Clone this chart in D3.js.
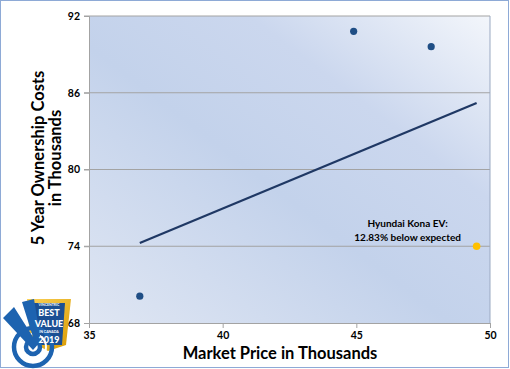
<!DOCTYPE html>
<html>
<head>
<meta charset="utf-8">
<script src="https://cdn.jsdelivr.net/npm/d3@7/dist/d3.min.js"></script>
<style>
  body { margin: 0; background: #fff; }
  text { font-family: Lato, "Open Sans", sans-serif; }
</style>
</head>
<body>
<div id="chart"><svg width="510" height="369"></svg></div>
<script>
// data
var pricesK = [36.9, 44.9, 47.8];
var costsK = [70.1, 90.8, 89.6];
var konaPrice = 49.5, konaCost = 74.0;
var trendX = [36.9, 49.5];
var trendY = [74.25, 85.2];
var xTicks = [35, 40, 45, 50];
var yTicks = [68, 74, 80, 86, 92];
var noteLines = ["Hyundai Kona EV:", "12.83% below expected"];

var svg = d3.select("#chart").select("svg");
var margin = { top: 16, right: 20, bottom: 46, left: 89 };
var width = 490 - margin.left;
var height = 323 - margin.top;

// outer frame
svg.append("rect")
  .attr("x", 0.5).attr("y", 0.5)
  .attr("width", 508).attr("height", 367)
  .attr("fill", "#fff")
  .attr("stroke", "#8eaad6");

var defs = svg.append("defs");
var grad = defs.append("linearGradient")
  .attr("id", "bg")
  .attr("x1", "0%").attr("y1", "100%")
  .attr("x2", "100%").attr("y2", "0%");
grad.append("stop").attr("offset", "0%").attr("stop-color", "#dfe6f3");
grad.append("stop").attr("offset", "45%").attr("stop-color", "#c3d2eb");
grad.append("stop").attr("offset", "70%").attr("stop-color", "#cbd7ee");
grad.append("stop").attr("offset", "100%").attr("stop-color", "#f3f6fb");

var g = svg.append("g")
  .attr("transform", "translate(" + margin.left + "," + margin.top + ")");

var x = d3.scaleLinear().domain([35, 50]).range([0, width]);
var y = d3.scaleLinear().domain([68, 92]).range([height, 0]);

g.append("rect")
  .attr("width", width).attr("height", height)
  .attr("fill", "url(#bg)");

// gridlines
g.selectAll(".grid")
  .data(yTicks.slice(1))
  .enter()
  .append("line")
  .attr("x1", -5).attr("x2", width)
  .attr("y1", function(d) { return y(d); })
  .attr("y2", function(d) { return y(d); })
  .attr("stroke", "#a3a3a3")
  .attr("stroke-width", 1);

// right edge of plot area
g.append("line")
  .attr("x1", width).attr("x2", width)
  .attr("y1", 0).attr("y2", height)
  .attr("stroke", "#9aa9c2");

var yAxis = g.append("g")
  .call(d3.axisLeft(y).tickValues(yTicks).tickSize(5).tickPadding(4));
var xAxis = g.append("g")
  .attr("transform", "translate(0," + height + ")")
  .call(d3.axisBottom(x).tickValues(xTicks).tickSize(5).tickPadding(4));

[xAxis, yAxis].forEach(function(ax) {
  ax.select(".domain").attr("stroke", "#a3a3a3");
  ax.selectAll(".tick line").attr("stroke", "#a3a3a3");
  ax.selectAll(".tick text")
    .attr("fill", "#000")
    .style("font-family", "Lato, sans-serif")
    .style("font-weight", "bold")
    .style("font-size", "10.5px");
});

// trend line
var pts = trendX.map(function(d, i) { return [d, trendY[i]]; });
g.append("path")
  .datum(pts)
  .attr("fill", "none")
  .attr("stroke", "#1f3864")
  .attr("stroke-width", 2.2)
  .attr("d", d3.line()
    .x(function(d) { return x(d[0]); })
    .y(function(d) { return y(d[1]); }));

// other vehicles
g.selectAll(".dot")
  .data(pricesK)
  .enter()
  .append("circle")
  .attr("class", "dot")
  .attr("cx", function(d) { return x(d); })
  .attr("cy", function(d, i) { return y(costsK[i]); })
  .attr("r", 3.6)
  .attr("fill", "#1f4e85");

// Kona EV
g.append("circle")
  .attr("cx", x(konaPrice))
  .attr("cy", y(konaCost))
  .attr("r", 3.8)
  .attr("fill", "#ffc000");

g.append("text")
  .attr("x", x(konaPrice) - 69)
  .attr("y", y(konaCost) - 19)
  .attr("text-anchor", "middle")
  .style("font-size", "10px")
  .style("font-weight", "bold")
  .selectAll("tspan")
  .data(noteLines)
  .enter()
  .append("tspan")
  .attr("x", x(konaPrice) - 69)
  .attr("dy", function(d, i) { return i === 0 ? 0 : 14; })
  .text(function(d) { return d; });

// axis titles
svg.append("text")
  .attr("x", 280)
  .attr("y", 359)
  .attr("text-anchor", "middle")
  .style("font-size", "16.5px")
  .style("font-weight", "bold")
  .text("Market Price in Thousands");

var yt = svg.append("text")
  .attr("transform", "translate(44,158) rotate(-90)")
  .attr("text-anchor", "middle")
  .style("font-size", "16.5px")
  .style("font-weight", "bold");
yt.append("tspan").attr("x", 0).attr("y", 0).text("5 Year Ownership Costs");
yt.append("tspan").attr("x", 0).attr("y", 17).text("in Thousands");

// Vincentric badge (rough)
var logo = svg.append("g");
var yg = defs.append("linearGradient").attr("id", "gold")
  .attr("x1", "0%").attr("y1", "0%").attr("x2", "100%").attr("y2", "100%");
yg.append("stop").attr("offset", "0%").attr("stop-color", "#fbd25a");
yg.append("stop").attr("offset", "100%").attr("stop-color", "#d99a00");
logo.append("path")
  .attr("d", "M27,299 L71,299 L66,345 L48,351 L30,341 Z")
  .attr("fill", "url(#gold)");
logo.append("path")
  .attr("d", "M33,303 L65,303 L62,345 L34,345 Z")
  .attr("fill", "#1b4f93");
[19, 13, 7].forEach(function(r, i) {
  logo.append("circle")
    .attr("cx", 33).attr("cy", 347).attr("r", r)
    .attr("fill", "none")
    .attr("stroke", i === 1 ? "#fff" : "#1d63b0")
    .attr("stroke-width", i === 1 ? 2 : 4.5);
});
logo.append("path")
  .attr("d", "M3,318 L14,307 L33,337 L22,302 L34,299 L41,341 L33,350 Z")
  .attr("fill", "#1d63b0");
var lt = logo.append("g").attr("fill", "#fff").attr("text-anchor", "middle");
lt.append("text").attr("x", 49).attr("y", 306).style("font-size", "3.5px").style("font-weight", "bold").text("VINCENTRIC");
lt.append("text").attr("x", 49).attr("y", 316).style("font-size", "9px").style("font-weight", "900").text("BEST");
lt.append("text").attr("x", 49).attr("y", 327).style("font-size", "9px").style("font-weight", "900").text("VALUE");
lt.append("text").attr("x", 49).attr("y", 332.5).style("font-size", "3.5px").style("font-weight", "bold").text("IN CANADA");
lt.append("text").attr("x", 49).attr("y", 342.5).style("font-size", "9px").style("font-weight", "900").text("2019");
</script>
</body>
</html>
